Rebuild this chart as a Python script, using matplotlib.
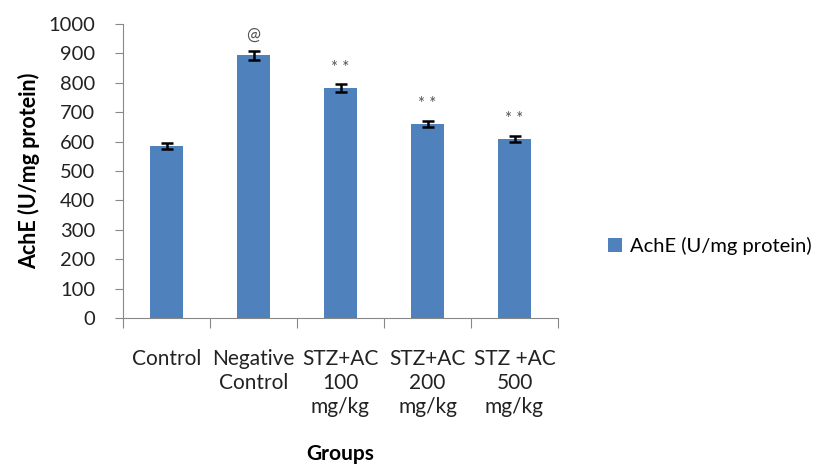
import matplotlib
matplotlib.use("Agg")
import matplotlib.pyplot as plt

categories = ["Control", "Negative\nControl", "STZ+AC\n100\nmg/kg", "STZ+AC\n200\nmg/kg", "STZ +AC\n500\nmg/kg"]
values = [585, 893, 783, 660, 610]
errors = [10, 15, 13, 11, 10]
marks = ["", "@", "* *", "* *", "* *"]
yticks = [0, 100, 200, 300, 400, 500, 600, 700, 800, 900, 1000]

plt.rcParams['font.family'] = ['Lato', 'DejaVu Sans']

fig = plt.figure(figsize=(8.17, 4.68), dpi=100)
W, H = 817, 468
ax = fig.add_axes([123 / W, 1 - 318 / H, (558 - 123) / W, (318 - 24) / H])

x = list(range(len(categories)))
bars = ax.bar(x, values, width=0.39, color="#4F81BD", label="AchE (U/mg protein)", zorder=2)
ax.errorbar(x, values, yerr=errors, fmt="none", ecolor="black", elinewidth=1.8, capsize=4, capthick=1.8, zorder=3)

for xi, v, e, m in zip(x, values, errors, marks):
    if m:
        ax.text(xi, v + e + 28, m, ha="center", va="bottom", fontsize=12 if m == "@" else 12, color="#555555")

ax.set_xlim(-0.5, len(categories) - 0.5)
ax.set_ylim(0, 1000)
ax.set_yticks(yticks)
ax.tick_params(axis="y", labelsize=14.5, length=6, color="#888888", pad=14, labelcolor="#222222")
ax.set_xticks([i - 0.5 for i in range(len(categories) + 1)])
ax.set_xticklabels([])
ax.set_xticks(x, minor=True)
ax.set_xticklabels(categories, minor=True, fontsize=15, linespacing=1.25, color="#222222")
ax.tick_params(axis="x", which="major", length=7, color="#888888")
ax.tick_params(axis="x", which="minor", length=0, pad=22)
for lab in ax.get_xticklabels(minor=True):
    lab.set_verticalalignment("top")

for s in ["top", "right"]:
    ax.spines[s].set_visible(False)
ax.spines["left"].set_color("#888888")
ax.spines["bottom"].set_color("#888888")

ax.set_ylabel("AchE (U/mg protein)", fontsize=15.5, fontweight="bold", labelpad=6)
ax.set_xlabel("Groups", fontsize=15, fontweight="bold", labelpad=20)

fig.legend(handles=[bars], labels=["AchE (U/mg protein)"], loc="center left",
           bbox_to_anchor=(590 / W, 1 - 246 / H), frameon=False, fontsize=14.5,
           handlelength=0.7, handleheight=0.7, handletextpad=0.4)

fig.savefig("out.png", dpi=100)
